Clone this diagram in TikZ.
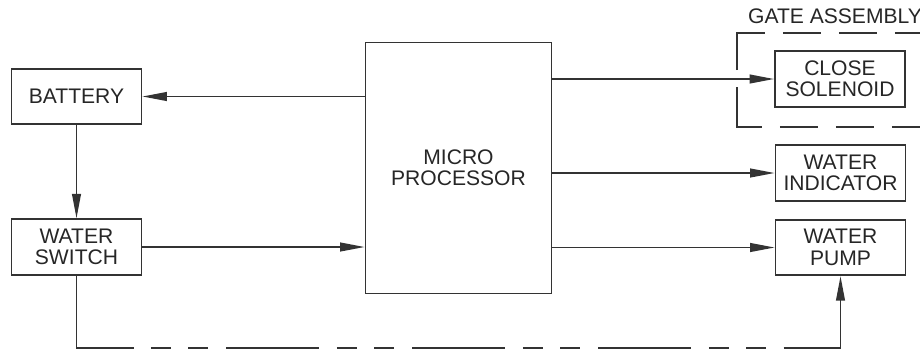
\documentclass[tikz,border=0pt]{standalone}
\usepackage{fontspec}
\setmainfont{Liberation Sans}
\usetikzlibrary{arrows.meta,calc}

\begin{document}
\begin{tikzpicture}[x=0.02cm,y=-0.02cm,>={Triangle[length=14pt,width=5pt]},line width=1pt,color=black!80,
  box/.style={draw,align=center,inner sep=0pt,minimum width=2.6cm,minimum height=1.11cm,
    font=\fontsize{12}{12.2}\selectfont,text=black!85},
  phantom/.style={dash pattern=on 1.86cm off 0.35cm on 0.4cm off 0.35cm on 0.4cm off 0.36cm,dash phase=1.86cm},
  gatedash/.style={dash pattern=on 1.3cm off 0.36cm on 0.76cm off 0.36cm on 0.76cm off 0.36cm on 0.76cm off 0.36cm}]
  \useasboundingbox (0,0) rectangle (920,353);
  \clip (0,0) rectangle (920,353);

  \node[box] (battery) at (76.5,96.5) {BATTERY};
  \node[box] (wswitch) at (76.5,247) {WATER\\SWITCH};
  \node[box,minimum width=3.72cm,minimum height=5.02cm] (micro) at (458.5,168) {MICRO\\PROCESSOR};
  \node[box] (solenoid) at (840,79) {CLOSE\\SOLENOID};
  \node[box] (indicator) at (840.5,173) {WATER\\INDICATOR};
  \node[box] (pump) at (840.5,247.5) {WATER\\PUMP};

  % gate assembly frame runs off the right edge
  \draw[gatedash] (737,70) -- (737,33) -- (960,33);
  \draw[gatedash] (737,87) -- (737,127) -- (960,127);
  \node[anchor=base,inner sep=0pt,font=\fontsize{12}{12.2}\selectfont,text=black!85] (gate) at (835,23) {GATE ASSEMBLY};

  \draw[->] (micro.west |- battery) -- (battery.east);
  \draw[->] (battery) -- (wswitch);
  \draw[->] (wswitch) -- (wswitch -| micro.west);
  \foreach \n in {solenoid,indicator,pump}
    \draw[->] (micro.east |- \n) -- (\n.west);

  \coordinate (bl) at (wswitch |- 0,348);
  \coordinate (br) at (pump |- 0,348);
  \draw (wswitch) -- (bl) -- ++(57,0);
  \draw[phantom] ($(bl)+(57,0)$) -- ($(br)+(-57,0)$);
  \draw[->] ($(br)+(-57,0)$) -- (br) -- (pump);
\end{tikzpicture}
\end{document}
